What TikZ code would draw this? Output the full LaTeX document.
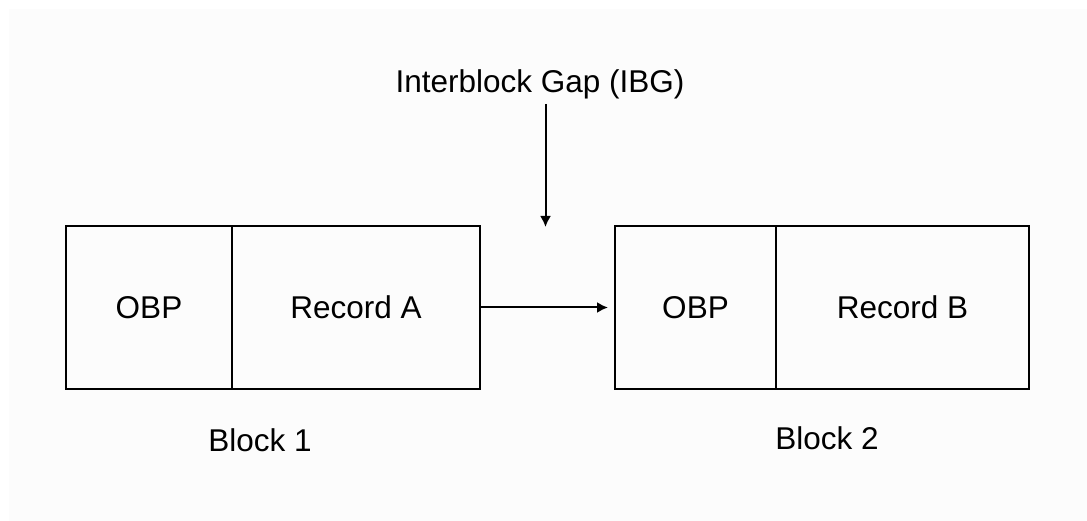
\documentclass[tikz,border=0pt]{standalone}
\usepackage{fontspec}
\setmainfont{Liberation Sans}
\usetikzlibrary{arrows.meta,positioning}

\begin{document}
\begin{tikzpicture}[x=1pt,y=-1pt,>={Latex[length=11pt,width=11pt]},line width=2pt,
                    font=\fontsize{31.5}{38}\selectfont,
                    cell/.style={rectangle,draw,outer sep=0pt,inner sep=0pt,minimum height=163pt},
                    caption/.style={anchor=base}]
  \useasboundingbox (0,0) rectangle (1087,521);
  \fill[black!1.2] (9,9) rectangle (1087,521);
  \node[cell,minimum width=166pt] (obp1) at (149,307.5) {OBP};
  \node[cell,minimum width=248pt] (rec1) [right=0pt of obp1] {Record A};
  \node[cell,minimum width=161pt] (obp2) [right=135pt of rec1] {OBP};
  \node[cell,minimum width=253pt] (rec2) [right=0pt of obp2] {Record B};
  \node[caption] (blk1) at (260,451) {Block 1};
  \node[caption] (blk2) at (827,449) {Block 2};
  \node[caption] (ibg) at (540,93) {Interblock Gap (IBG)};
  \coordinate (gap) at (545.5,227);
  \draw[->] (gap |- ibg.south) -- (gap);
  \draw[->,shorten >=7pt] (rec1) -- (obp2);
\end{tikzpicture}
\end{document}
